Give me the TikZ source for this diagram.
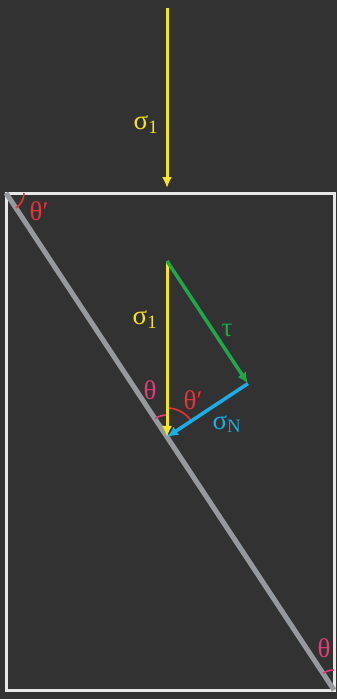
\documentclass[tikz,border=0pt]{standalone}
\usepackage{fontspec}
\setmainfont{Liberation Serif}
\usepackage{tikz}
\usetikzlibrary{arrows.meta,calc}
\definecolor{bgcol}{RGB}{50,50,50}
\definecolor{framecol}{RGB}{232,232,232}
\definecolor{planecol}{RGB}{150,154,158}
\definecolor{sigcol}{RGB}{246,228,30}
\definecolor{taucol}{RGB}{30,168,72}
\definecolor{normcol}{RGB}{26,174,230}
\definecolor{thpcol}{RGB}{232,50,58}
\definecolor{thcol}{RGB}{226,60,122}
\tikzstyle{lbl} = [font=\fontsize{27}{29}\selectfont, inner sep=0pt]
\tikzstyle{force} = [draw, line width=3.5pt, -{Latex[length=11pt,width=10pt]}]
\tikzstyle{angarc} = [draw, line width=1.6pt]

\begin{document}
\begin{tikzpicture}[x=1pt, y=1pt]
    \fill[bgcol] (0,0) rectangle (337,-699);
    \useasboundingbox (0,0) rectangle (337,-699);
    % Place nodes
    \coordinate (tl) at (6,-193);
    \coordinate (br) at (334,-690);
    \coordinate (start) at (167,-8);
    \coordinate (hit) at (167,-188);
    \coordinate (p) at ($(tl)!0.4909!(br)$);
    \coordinate (t) at ($(p)+(0,176)$);
    \coordinate (nrm) at ($(p)!30pt!90:(br)$);
    \coordinate (g) at ($(p)!(t)!(nrm)$);
    \node [lbl, text=sigcol] (s1top) at (146,-125) {σ\textsubscript{1}};
    \node [lbl, text=sigcol] (s1) at (145,-320) {σ\textsubscript{1}};
    \node [lbl, text=taucol] (tau) at (227,-330) {τ};
    \node [lbl, text=normcol] (sn) at (227,-424) {σ\textsubscript{N}};
    \node [lbl, text=thcol] (th) at (150,-390) {θ};
    \node [lbl, text=thpcol] (thp) at (193,-400) {θ′};
    \node [lbl, text=thpcol] (thpc) at (39,-211) {θ′};
    \node [lbl, text=thcol] (thc) at (324,-648) {θ};

    % Draw edges
    \draw [framecol, line width=3pt] (tl) rectangle (br);
    \draw [planecol, line width=5pt] (tl) -- (br);
    \path [angarc, thpcol] ($(tl)+(18,0)$) arc (0:-56.6:18);
    \path [angarc, thcol] ($(br)+(0,20)$) arc (90:123.4:20);
    \path [angarc, thcol] ($(p)+(0,22)$) arc (90:123.4:22);
    \path [angarc, thpcol] ($(p)+(0,29)$) arc (90:33.4:29);
    \path [force, sigcol, line width=3pt] (start) -- (hit);
    \path [force, sigcol, line width=3pt] (t) -- (p);
    \path [force, taucol] (t) -- (g);
    \path [force, normcol] (g) -- (p);
\end{tikzpicture}
\end{document}
